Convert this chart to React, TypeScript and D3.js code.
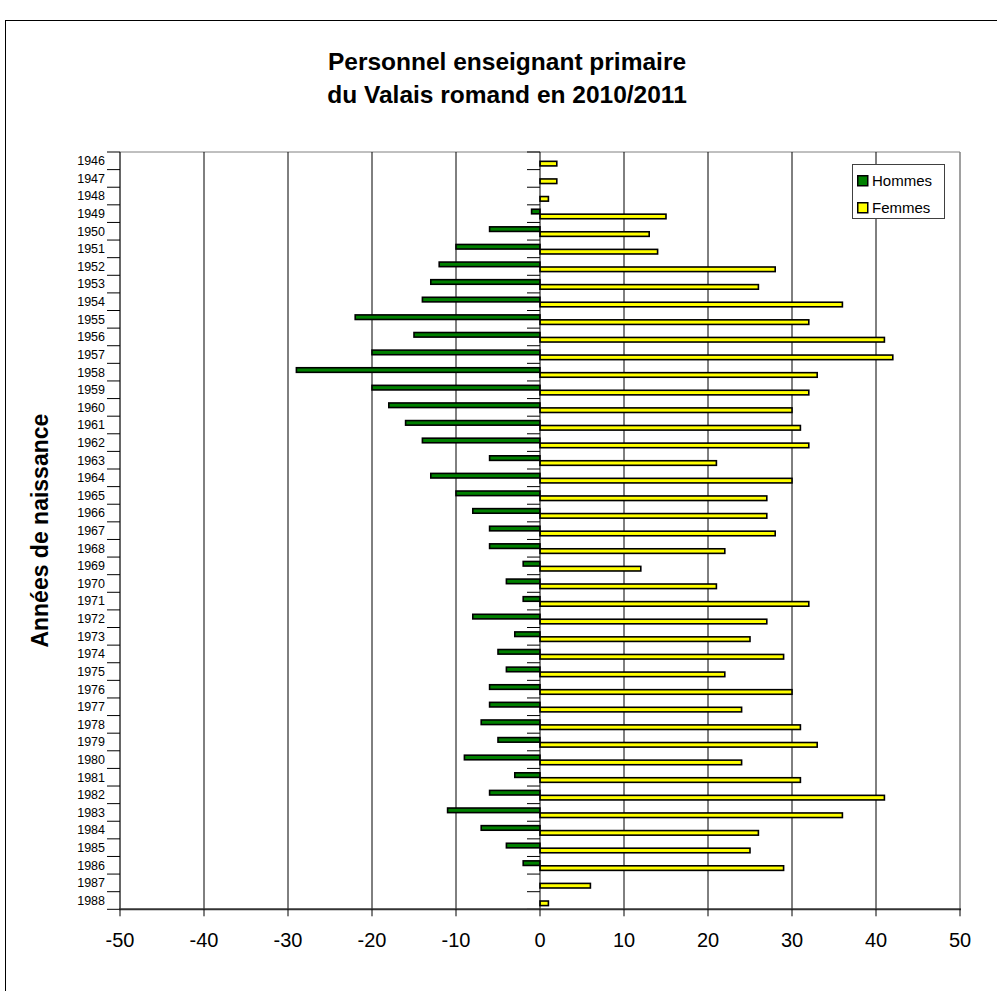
import React from "react";
import * as d3 from "d3";

const years: string[] = [
  "1946","1947","1948","1949","1950","1951","1952","1953","1954","1955",
  "1956","1957","1958","1959","1960","1961","1962","1963","1964","1965",
  "1966","1967","1968","1969","1970","1971","1972","1973","1974","1975",
  "1976","1977","1978","1979","1980","1981","1982","1983","1984","1985",
  "1986","1987","1988",
];

const hommes: number[] = [
  0, 0, 0, -1, -6, -10, -12, -13, -14, -22,
  -15, -20, -29, -20, -18, -16, -14, -6, -13, -10,
  -8, -6, -6, -2, -4, -2, -8, -3, -5, -4,
  -6, -6, -7, -5, -9, -3, -6, -11, -7, -4,
  -2, 0, 0,
];

const femmes: number[] = [
  2, 2, 1, 15, 13, 14, 28, 26, 36, 32,
  41, 42, 33, 32, 30, 31, 32, 21, 30, 27,
  27, 28, 22, 12, 21, 32, 27, 25, 29, 22,
  30, 24, 31, 33, 24, 31, 41, 36, 26, 25,
  29, 6, 1,
];

const xTicks: number[] = [-50, -40, -30, -20, -10, 0, 10, 20, 30, 40, 50];

const titleLines: string[] = ["Personnel enseignant primaire", "du Valais romand en 2010/2011"];
const yTitle = "Années de naissance";
const seriesNames: string[] = ["Hommes", "Femmes"];
const seriesColors: string[] = ["#008000", "#FFFF00"];

const W = 997;
const H = 991;
const L = 120;
const R = 960;
const T = 152;
const B = 909.3;
const FONT = "'Liberation Sans', Arial, Helvetica, sans-serif";

export default function App() {
  const x = d3.scaleLinear().domain([-50, 50]).range([L, R]);
  const y = d3.scaleBand<string>().domain(years).range([T, B]).paddingInner(0).paddingOuter(0);
  const step = y.step();
  const barH = 0.26 * step;
  const offH = 0.25 * step;
  const offF = 0.53 * step;
  const bounds = d3.range(years.length + 1).map((i) => T + i * step);
  const x0 = x(0);

  return (
    <svg
      width={W}
      height={H}
      style={{ position: "absolute", left: 0, top: 0, background: "#fff" }}
      fontFamily={FONT}
    >
      <rect x={0} y={0} width={W} height={H} fill="#fff" />
      {/* outer frame */}
      <rect x={5.5} y={20.5} width={W + 20} height={H + 20} fill="none" stroke="#000" strokeWidth={1} />

      {/* title */}
      {titleLines.map((t, i) => (
        <text
          key={i}
          x={507}
          y={70 + i * 33}
          textAnchor="middle"
          fontWeight="bold"
          fontSize={24.5}
          fill="#000"
        >
          {t}
        </text>
      ))}

      {/* plot frame top/right */}
      <line x1={L} x2={R} y1={T} y2={T} stroke="#808080" strokeWidth={1} />
      <line x1={R} x2={R} y1={T} y2={B} stroke="#808080" strokeWidth={1.5} />

      {/* gridlines */}
      {xTicks
        .filter((v) => v !== -50 && v !== 50 && v !== 0)
        .map((v) => (
          <line key={v} x1={x(v)} x2={x(v)} y1={T} y2={B} stroke="#000" strokeWidth={1} />
        ))}

      {/* bars */}
      {years.map((yr, i) =>
        hommes[i] !== 0 ? (
          <rect
            key={"h" + yr}
            x={x(hommes[i])}
            y={(y(yr) as number) + offH}
            width={x0 - x(hommes[i])}
            height={barH}
            fill={seriesColors[0]}
            stroke="#000"
            strokeWidth={1.6}
          />
        ) : null
      )}
      {years.map((yr, i) =>
        femmes[i] !== 0 ? (
          <rect
            key={"f" + yr}
            x={x0}
            y={(y(yr) as number) + offF}
            width={x(femmes[i]) - x0}
            height={barH}
            fill={seriesColors[1]}
            stroke="#000"
            strokeWidth={1.6}
          />
        ) : null
      )}

      {/* zero axis with ticks */}
      <line x1={x0} x2={x0} y1={T} y2={B} stroke="#000" strokeWidth={1} />
      {bounds.map((b, i) => (
        <line key={"zt" + i} x1={x0 - 13} x2={x0} y1={b} y2={b} stroke="#000" strokeWidth={1} />
      ))}

      {/* left axis */}
      <line x1={L} x2={L} y1={T} y2={B} stroke="#333" strokeWidth={1.5} />
      {bounds.map((b, i) => (
        <line key={"lt" + i} x1={L - 13} x2={L} y1={b} y2={b} stroke="#000" strokeWidth={1} />
      ))}
      {years.map((yr) => (
        <text
          key={"yl" + yr}
          x={105}
          y={(y(yr) as number) + step / 2}
          dy="0.35em"
          textAnchor="end"
          fontSize={12.5}
          fill="#000"
        >
          {yr}
        </text>
      ))}

      {/* bottom axis */}
      <line x1={L - 1} x2={R + 1} y1={B} y2={B} stroke="#333" strokeWidth={2} />
      {xTicks.map((v) => (
        <g key={"xt" + v}>
          <line x1={x(v)} x2={x(v)} y1={B} y2={B + 7} stroke="#000" strokeWidth={1} />
          <text x={x(v)} y={940} dy="0.35em" textAnchor="middle" fontSize={20} fill="#000">
            {v}
          </text>
        </g>
      ))}

      {/* y axis title */}
      <text
        transform={`translate(48, ${(T + B) / 2}) rotate(-90)`}
        textAnchor="middle"
        fontWeight="bold"
        fontSize={23}
        fill="#000"
      >
        {yTitle}
      </text>

      {/* legend */}
      <rect x={852.5} y={164.5} width={92} height={54} fill="#fff" stroke="#404040" strokeWidth={1} />
      {seriesNames.map((n, i) => (
        <g key={n} transform={`translate(857, ${175 + i * 27})`}>
          <rect x={0.75} y={0.75} width={10} height={10} fill={seriesColors[i]} stroke="#000" strokeWidth={1.5} />
          <text x={15} y={6} dy="0.35em" fontSize={15} fill="#000">
            {n}
          </text>
        </g>
      ))}
    </svg>
  );
}
